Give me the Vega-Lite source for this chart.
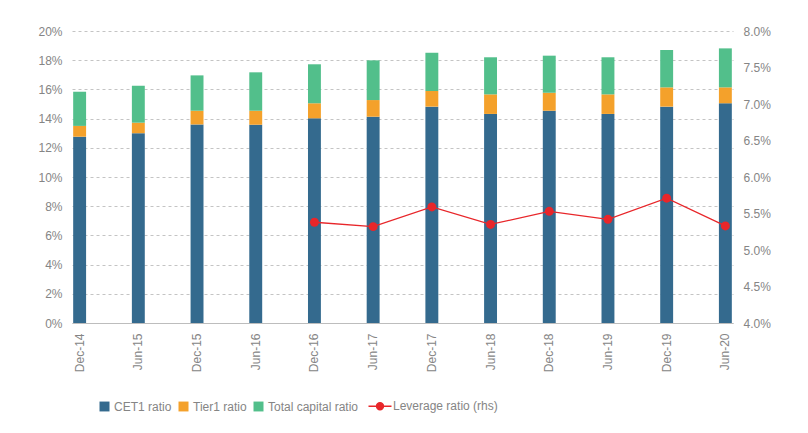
{
  "$schema": "https://vega.github.io/schema/vega-lite/v6.json",
  "width": 661,
  "height": 292,
  "autosize": {"type": "none"},
  "padding": {"left": 72, "top": 31, "right": 75, "bottom": 110},
  "background": "white",
  "config": {
    "view": {"stroke": null},
    "font": "Liberation Sans",
    "axis": {
      "labelColor": "#858585",
      "labelFontSize": 12,
      "labelFont": "Liberation Sans",
      "gridColor": "#c4c4c4",
      "gridDash": [3, 3],
      "gridWidth": 1,
      "ticks": false,
      "domain": false,
      "title": null,
      "labelOverlap": false
    }
  },
  "data": {
    "values": [
      {"date": "Dec-14", "cet1": 12.76, "tier1": 13.5, "total": 15.84, "leverage": null},
      {"date": "Jun-15", "cet1": 13.0, "tier1": 13.72, "total": 16.25, "leverage": null},
      {"date": "Dec-15", "cet1": 13.6, "tier1": 14.54, "total": 16.96, "leverage": null},
      {"date": "Jun-16", "cet1": 13.58, "tier1": 14.54, "total": 17.17, "leverage": null},
      {"date": "Dec-16", "cet1": 14.02, "tier1": 15.05, "total": 17.72, "leverage": 5.38},
      {"date": "Jun-17", "cet1": 14.13, "tier1": 15.27, "total": 17.99, "leverage": 5.32},
      {"date": "Dec-17", "cet1": 14.82, "tier1": 15.89, "total": 18.51, "leverage": 5.59},
      {"date": "Jun-18", "cet1": 14.32, "tier1": 15.66, "total": 18.2, "leverage": 5.35},
      {"date": "Dec-18", "cet1": 14.54, "tier1": 15.77, "total": 18.31, "leverage": 5.53},
      {"date": "Jun-19", "cet1": 14.32, "tier1": 15.66, "total": 18.2, "leverage": 5.42},
      {"date": "Dec-19", "cet1": 14.82, "tier1": 16.14, "total": 18.7, "leverage": 5.71},
      {"date": "Jun-20", "cet1": 15.05, "tier1": 16.14, "total": 18.81, "leverage": 5.33}
    ]
  },
  "encoding": {
    "x": {
      "field": "date",
      "type": "ordinal",
      "sort": null,
      "scale": {"paddingInner": 0.78, "paddingOuter": 0.02},
      "axis": {
        "labelAngle": -90,
        "labelPadding": 10,
        "domain": true,
        "domainColor": "#bdbdbd",
        "grid": false
      }
    }
  },
  "layer": [
    {
      "layer": [
        {
          "mark": {"type": "bar"},
          "encoding": {
            "y": {
              "field": "cet1",
              "type": "quantitative",
              "scale": {"domain": [0, 20], "nice": false},
              "axis": {
                "values": [0, 2, 4, 6, 8, 10, 12, 14, 16, 18, 20],
                "labelExpr": "datum.value + '%'",
                "grid": true,
                "labelPadding": 10
              }
            },
            "color": {
              "datum": "CET1 ratio",
              "type": "nominal",
              "scale": {
                "domain": ["CET1 ratio", "Tier1 ratio", "Total capital ratio", "Leverage ratio (rhs)"],
                "range": ["#346a8e", "#f4a12b", "#52bf8b", "#e8262a"]
              },
              "legend": {
                "title": null,
                "orient": "none",
                "legendX": 33,
                "legendY": 369,
                "direction": "horizontal",
                "symbolSize": 529,
                "labelFontSize": 12,
                "labelFont": "Liberation Sans",
                "labelColor": "#858585",
                "labelOffset": 7,
                "columnPadding": 6,
                "encode": {
                  "symbols": {
                    "update": {
                      "shape": {"signal": "datum.value === 'Leverage ratio (rhs)' ? 'M-1,0H1M-0.3,0A0.3,0.3 0 1,1 0.3,0A0.3,0.3 0 1,1 -0.3,0Z' : 'M-1,-0.43H-0.13V0.43H-1Z'"},
                      "fill": {"scale": "color", "field": "value"},
                      "stroke": {"scale": "color", "field": "value"},
                      "strokeWidth": {"signal": "datum.value === 'Leverage ratio (rhs)' ? 1.5 : 0"},
                      "opacity": {"value": 1}
                    }
                  },
                  "labels": {
                    "update": {
                      "dx": {"signal": "datum.value === 'Leverage ratio (rhs)' ? 0 : -10"}
                    }
                  }
                }
              }
            }
          }
        },
        {
          "mark": {"type": "bar"},
          "encoding": {
            "y": {
              "field": "tier1",
              "type": "quantitative",
              "axis": {
                "values": [0, 2, 4, 6, 8, 10, 12, 14, 16, 18, 20],
                "labelExpr": "datum.value + '%'",
                "grid": true,
                "labelPadding": 10
              }
            },
            "y2": {"field": "cet1"},
            "color": {"datum": "Tier1 ratio", "type": "nominal"}
          }
        },
        {
          "mark": {"type": "bar"},
          "encoding": {
            "y": {
              "field": "total",
              "type": "quantitative",
              "axis": {
                "values": [0, 2, 4, 6, 8, 10, 12, 14, 16, 18, 20],
                "labelExpr": "datum.value + '%'",
                "grid": true,
                "labelPadding": 10
              }
            },
            "y2": {"field": "tier1"},
            "color": {"datum": "Total capital ratio", "type": "nominal"}
          }
        }
      ]
    },
    {
      "layer": [
        {
          "mark": {"type": "line", "strokeWidth": 1.3},
          "encoding": {
            "y": {
              "field": "leverage",
              "type": "quantitative",
              "scale": {"domain": [4, 8], "nice": false},
              "axis": {
                "orient": "right",
                "values": [4, 4.5, 5, 5.5, 6, 6.5, 7, 7.5, 8],
                "labelExpr": "format(datum.value, '.1f') + '%'",
                "grid": false,
                "labelPadding": 10
              }
            },
            "color": {"datum": "Leverage ratio (rhs)", "type": "nominal"}
          }
        },
        {
          "mark": {"type": "point", "filled": true, "size": 80, "opacity": 1},
          "encoding": {
            "y": {
              "field": "leverage",
              "type": "quantitative",
              "axis": {
                "orient": "right",
                "values": [4, 4.5, 5, 5.5, 6, 6.5, 7, 7.5, 8],
                "labelExpr": "format(datum.value, '.1f') + '%'",
                "grid": false,
                "labelPadding": 10
              }
            },
            "color": {"datum": "Leverage ratio (rhs)", "type": "nominal"}
          }
        }
      ]
    }
  ],
  "resolve": {"scale": {"y": "independent"}}
}
